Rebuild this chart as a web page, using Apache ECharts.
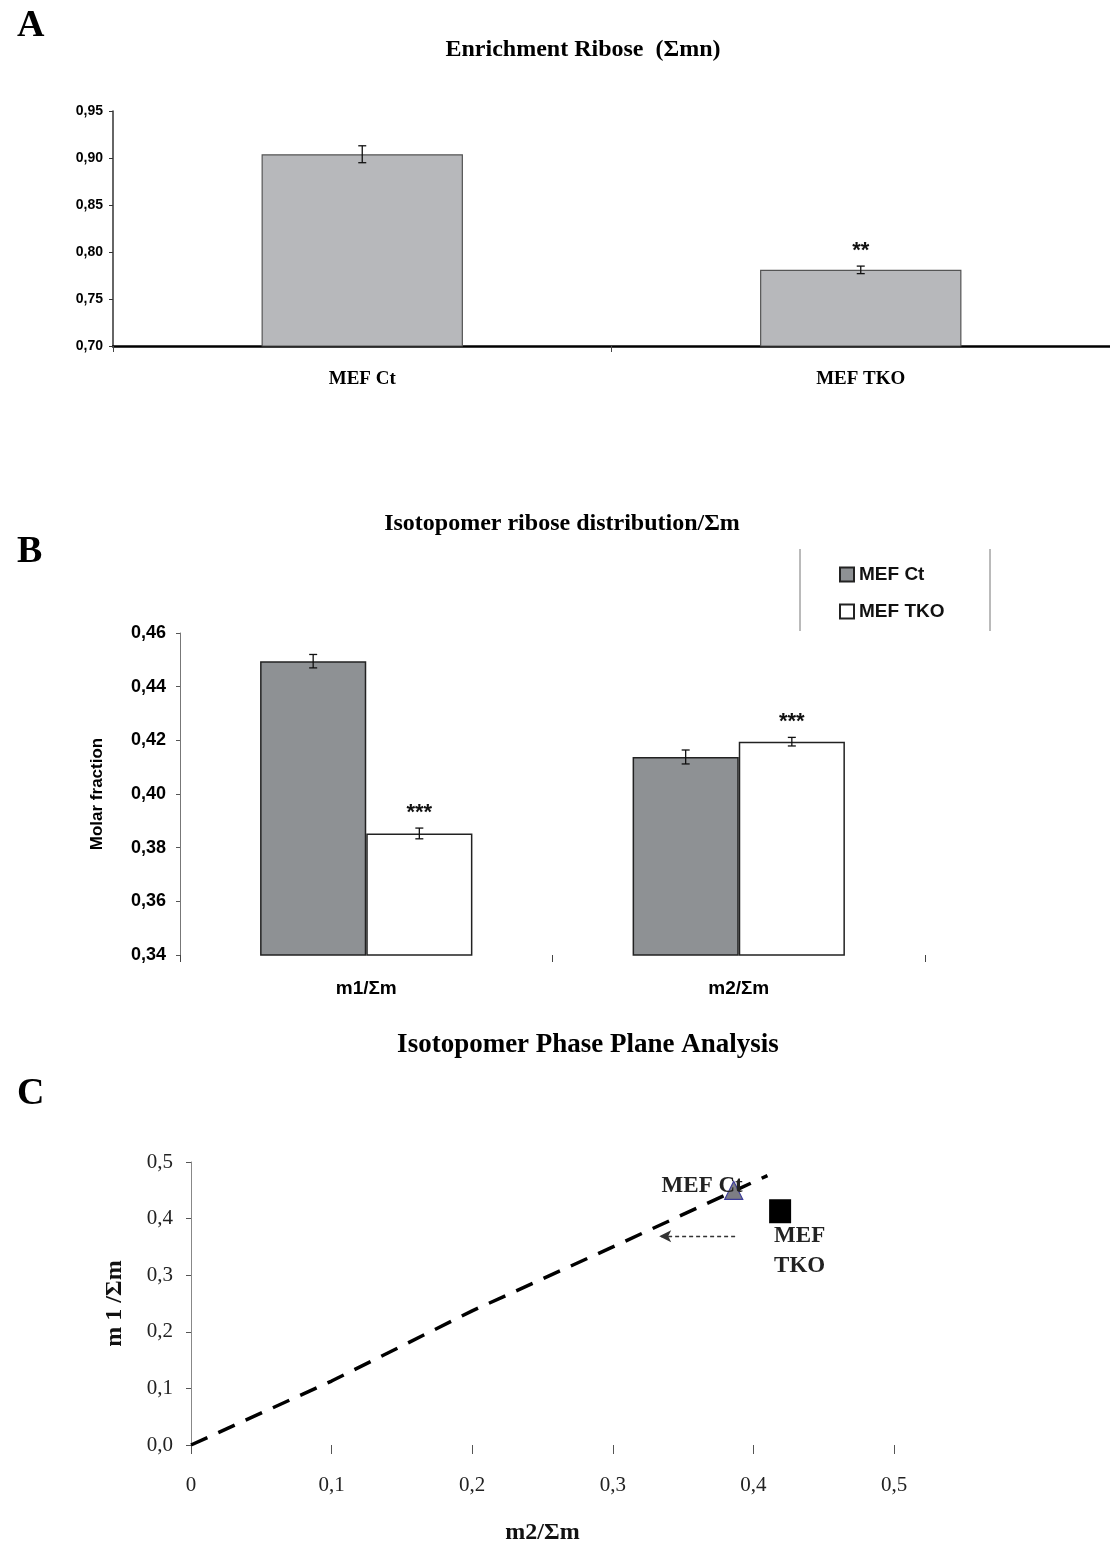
<!DOCTYPE html>
<html>
<head>
<meta charset="utf-8">
<script src="https://cdn.jsdelivr.net/npm/echarts@6/dist/echarts.min.js"></script>
<style>
html,body{margin:0;padding:0;background:#fff;}
#chart{width:1110px;height:1546px;}
</style>
</head>
<body>
<div id="chart"></div>
<script>
// ---------- Panel A data ----------
const catA = ['MEF Ct', 'MEF TKO'];
const valA = [0.904, 0.781];
const errA = [0.009, 0.004];
const sigA = ['', '**'];
const yRangeA = {min: 0.70, max: 0.95, interval: 0.05};

// ---------- Panel B data ----------
const catB = ['m1/Σm', 'm2/Σm'];
const ctB = [0.4495, 0.4138];
const ctErrB = [0.0025, 0.0026];
const tkoB = [0.3853, 0.4195];
const tkoErrB = [0.0020, 0.0016];
const sigCtB = ['', ''];
const sigTkoB = ['***', '***'];
const yRangeB = {min: 0.34, max: 0.46, interval: 0.02};

// ---------- Panel C data ----------
const ctPoint = [0.386, 0.450];
const tkoPoint = [0.419, 0.413];
const refLine = [[0, 0], [0.1, 0.113], [0.2, 0.237], [0.3, 0.350], [0.41, 0.476]];
const arrowFrom = [0.387, 0.369];
const arrowTo = [0.333, 0.369];
const xRangeC = {min: 0, max: 0.5, interval: 0.1};
const yRangeC = {min: 0, max: 0.5, interval: 0.1};

const SERIF = '"Liberation Serif", "Times New Roman", serif';
const SANS = '"Liberation Sans Narrow", "Liberation Sans", Arial, sans-serif';
const SANSW = '"Liberation Sans", Arial, sans-serif';

const comma = (d) => (v) => v.toFixed(d).replace('.', ',');

function errRenderer(widthFrac) {
  return function (params, api) {
    const idx = api.value(0), v = api.value(1), e = api.value(2), side = api.value(4);
    const band = api.size([1, 0])[0];
    const off = side * band * widthFrac / 2;
    const top = api.coord([idx, v + e]);
    const bot = api.coord([idx, v - e]);
    const x = top[0] + off;
    const cap = 4;
    const st = {stroke: '#111', lineWidth: 1.3};
    const children = [
      {type: 'line', shape: {x1: x, y1: top[1], x2: x, y2: bot[1]}, style: st},
      {type: 'line', shape: {x1: x - cap, y1: top[1], x2: x + cap, y2: top[1]}, style: st},
      {type: 'line', shape: {x1: x - cap, y1: bot[1], x2: x + cap, y2: bot[1]}, style: st}
    ];
    const sig = api.value(3);
    if (sig && sig !== '-') {
      children.push({type: 'text', style: {text: sig, x: x, y: top[1] - 4, align: 'center', verticalAlign: 'bottom',
        font: 'bold 22px ' + SANSW, fill: '#111'}});
    }
    return {type: 'group', children: children};
  };
}

const chart = echarts.init(document.getElementById('chart'), null, {renderer: 'canvas'});

const option = {
  backgroundColor: '#fff',
  animation: false,
  title: [
    {text: 'A', left: 12, top: 2, textStyle: {fontFamily: SERIF, fontWeight: 'bold', fontSize: 38, color: '#000'}},
    {text: 'Enrichment Ribose  (Σmn)', left: 578, top: 33, textAlign: 'center', textStyle: {fontFamily: SERIF, fontWeight: 'bold', fontSize: 24, color: '#000'}},
    {text: 'B', left: 12, top: 528, textStyle: {fontFamily: SERIF, fontWeight: 'bold', fontSize: 38, color: '#000'}},
    {text: 'Isotopomer ribose distribution/Σm', left: 557, top: 507, textAlign: 'center', textStyle: {fontFamily: SERIF, fontWeight: 'bold', fontSize: 24, color: '#000'}},
    {text: 'C', left: 12, top: 1070, textStyle: {fontFamily: SERIF, fontWeight: 'bold', fontSize: 38, color: '#000'}},
    {text: 'Isotopomer Phase Plane Analysis', left: 583, top: 1027, textAlign: 'center', textStyle: {fontFamily: SERIF, fontWeight: 'bold', fontSize: 27, color: '#000'}}
  ],
  legend: {
    data: [{name: 'MEF Ct'}, {name: 'MEF TKO'}],
    orient: 'vertical', left: 834, top: 560, itemGap: 18, itemWidth: 14, itemHeight: 14, icon: 'rect',
    textStyle: {fontFamily: SANSW, fontWeight: 'bold', fontSize: 19, color: '#111'}
  },
  graphic: [
    {type: 'line', shape: {x1: 800, y1: 549, x2: 800, y2: 631}, style: {stroke: '#777', lineWidth: 1}},
    {type: 'line', shape: {x1: 990, y1: 549, x2: 990, y2: 631}, style: {stroke: '#777', lineWidth: 1}}
  ],
  grid: [
    {left: 113, top: 111, width: 1000, height: 235},
    {left: 180, top: 633, width: 745, height: 322},
    {left: 191, top: 1162, width: 703, height: 283}
  ],
  xAxis: [
    {gridIndex: 0, type: 'category', data: catA,
     axisLine: {lineStyle: {color: '#000', width: 2.5}},
     axisTick: {show: true, alignWithLabel: false, length: 6, lineStyle: {color: '#444'}},
     axisLabel: {margin: 24, fontFamily: SERIF, fontWeight: 'bold', fontSize: 19, color: '#000'}},
    {gridIndex: 1, type: 'category', data: catB,
     axisLine: {show: false},
     axisTick: {show: true, alignWithLabel: false, length: 7, lineStyle: {color: '#444'}},
     axisLabel: {margin: 24, fontFamily: SANSW, fontWeight: 'bold', fontSize: 19, color: '#000'}},
    {gridIndex: 2, type: 'value', min: xRangeC.min, max: xRangeC.max, interval: xRangeC.interval,
     axisLine: {show: false},
     axisTick: {show: true, length: 9, lineStyle: {color: '#555'}},
     splitLine: {show: false},
     axisLabel: {margin: 30, fontFamily: SERIF, fontSize: 21, color: '#222',
       formatter: (v) => v === 0 ? '0' : comma(1)(v)},
     name: 'm2/Σm', nameLocation: 'middle', nameGap: 76,
     nameTextStyle: {fontFamily: SERIF, fontWeight: 'bold', fontSize: 24, color: '#111'}}
  ],
  yAxis: [
    {gridIndex: 0, type: 'value', min: yRangeA.min, max: yRangeA.max, interval: yRangeA.interval,
     axisLine: {show: true, lineStyle: {color: '#333', width: 1.5}},
     axisTick: {show: true, length: 4, lineStyle: {color: '#333'}},
     splitLine: {show: false},
     axisLabel: {margin: 10, fontFamily: SANSW, fontWeight: 'bold', fontSize: 14, color: '#000', formatter: comma(2)}},
    {gridIndex: 1, type: 'value', min: yRangeB.min, max: yRangeB.max, interval: yRangeB.interval,
     axisLine: {show: true, lineStyle: {color: '#777', width: 1}},
     axisTick: {show: true, length: 4, lineStyle: {color: '#555'}},
     splitLine: {show: false},
     axisLabel: {margin: 14, fontFamily: SANS, fontWeight: 'bold', fontSize: 18, color: '#000', formatter: comma(2)},
     name: 'Molar fraction', nameLocation: 'middle', nameGap: 74, nameRotate: 90,
     nameTextStyle: {fontFamily: SANSW, fontWeight: 'bold', fontSize: 17, color: '#000'}},
    {gridIndex: 2, type: 'value', min: yRangeC.min, max: yRangeC.max, interval: yRangeC.interval,
     axisLine: {show: true, lineStyle: {color: '#888', width: 1}},
     axisTick: {show: true, length: 5, lineStyle: {color: '#555'}},
     splitLine: {show: false},
     axisLabel: {margin: 18, fontFamily: SERIF, fontSize: 21, color: '#222', formatter: comma(1)},
     name: 'm 1 /Σm', nameLocation: 'middle', nameGap: 64, nameRotate: 90,
     nameTextStyle: {fontFamily: SERIF, fontWeight: 'bold', fontSize: 24, color: '#111'}}
  ],
  series: [
    // Panel A
    {type: 'bar', name: 'Enrichment', xAxisIndex: 0, yAxisIndex: 0, data: valA, barWidth: '40.4%',
     itemStyle: {color: '#b7b8bb', borderColor: '#555', borderWidth: 1.2}},
    {type: 'custom', name: 'errA', xAxisIndex: 0, yAxisIndex: 0, z: 5,
     data: valA.map((v, i) => [i, v, errA[i], sigA[i] || '-', 0]),
     renderItem: errRenderer(0)},
    // Panel B
    {type: 'bar', name: 'MEF Ct', xAxisIndex: 1, yAxisIndex: 1, data: ctB, barWidth: '28.5%', barGap: '0%',
     itemStyle: {color: '#8e9194', borderColor: '#222', borderWidth: 1.5}},
    {type: 'bar', name: 'MEF TKO', xAxisIndex: 1, yAxisIndex: 1, data: tkoB, barWidth: '28.5%', barGap: '0%',
     itemStyle: {color: '#ffffff', borderColor: '#222', borderWidth: 1.5}},
    {type: 'custom', name: 'errCtB', xAxisIndex: 1, yAxisIndex: 1, z: 5,
     data: ctB.map((v, i) => [i, v, ctErrB[i], sigCtB[i] || '-', -1]),
     renderItem: errRenderer(0.285)},
    {type: 'custom', name: 'errTkoB', xAxisIndex: 1, yAxisIndex: 1, z: 5,
     data: tkoB.map((v, i) => [i, v, tkoErrB[i], sigTkoB[i] || '-', 1]),
     renderItem: errRenderer(0.285)},
    // Panel C
    {type: 'line', name: 'reference', xAxisIndex: 2, yAxisIndex: 2, data: refLine, showSymbol: false, symbol: 'none',
     lineStyle: {color: '#000', width: 3.5, type: [18, 12]},
     markLine: {silent: true, symbol: ['none', 'arrow'], symbolSize: [9, 12],
       label: {show: false},
       lineStyle: {color: '#333', width: 1.3, type: [4, 3]},
       data: [[{coord: arrowFrom}, {coord: arrowTo}]]}},
    {type: 'scatter', name: 'Ct point', xAxisIndex: 2, yAxisIndex: 2, z: 4,
     data: [{value: ctPoint, name: 'MEF Ct'}], symbol: 'triangle', symbolSize: 18,
     itemStyle: {color: '#7d7d84', borderColor: '#3d3d9a', borderWidth: 1.2, opacity: 1},
     label: {show: true, position: 'inside', formatter: '{b}', align: 'right', offset: [9, -4],
       fontFamily: SERIF, fontWeight: 'bold', fontSize: 23, color: '#222'}},
    {type: 'scatter', name: 'TKO point', xAxisIndex: 2, yAxisIndex: 2, z: 4,
     data: [{value: tkoPoint, name: 'MEF\nTKO'}], symbol: 'rect', symbolSize: [22, 24],
     itemStyle: {color: '#000', opacity: 1},
     label: {show: true, position: 'inside', formatter: '{b}', align: 'left', verticalAlign: 'top', offset: [-6, 10],
       lineHeight: 30, fontFamily: SERIF, fontWeight: 'bold', fontSize: 23, color: '#222'}}
  ]
};
chart.setOption(option);
</script>
</body>
</html>
